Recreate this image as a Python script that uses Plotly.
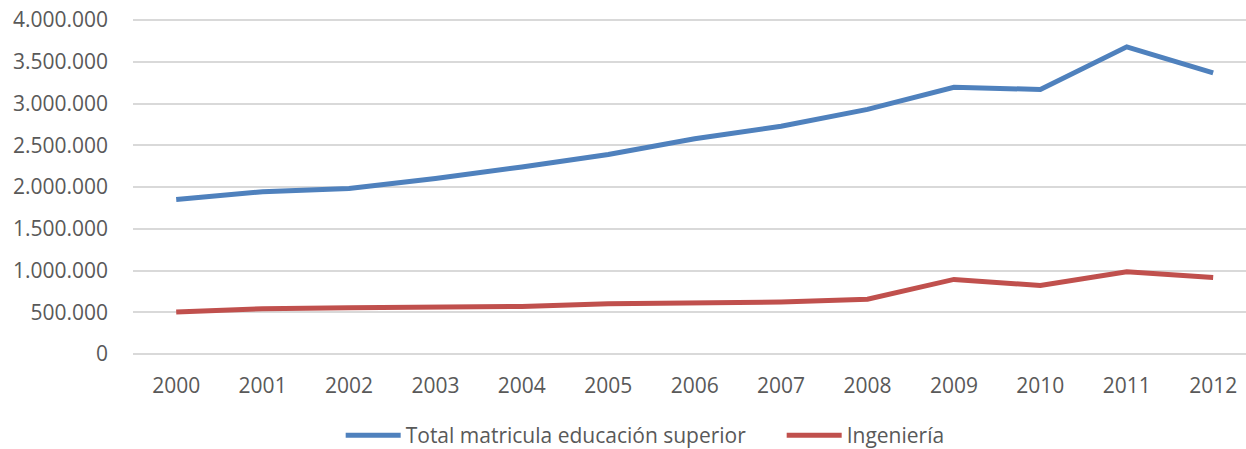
import plotly.graph_objects as go

years = ["2000", "2001", "2002", "2003", "2004", "2005", "2006",
         "2007", "2008", "2009", "2010", "2011", "2012"]
total = [1850000, 1943000, 1982000, 2102000, 2240000, 2389000, 2577000,
         2728000, 2930000, 3195000, 3168000, 3679000, 3367000]
ingenieria = [502000, 543000, 554000, 556000, 570000, 602000, 611000,
              623000, 655000, 893000, 820000, 986000, 917000]
y_ticks = [0, 500000, 1000000, 1500000, 2000000, 2500000, 3000000, 3500000, 4000000]

FONT = "Open Sans"
fig = go.Figure()
fig.add_trace(go.Scatter(x=years, y=total, mode="lines",
                         name="Total matricula educación superior",
                         line=dict(color="#4F81BD", width=5)))
fig.add_trace(go.Scatter(x=years, y=ingenieria, mode="lines",
                         name="Ingeniería",
                         line=dict(color="#C0504D", width=5)))

fig.update_layout(
    width=1246, height=449,
    margin=dict(l=133, r=0, t=17, b=92, autoexpand=False),
    paper_bgcolor="white", plot_bgcolor="white",
    separators=",.",
    font=dict(family=FONT, size=21, color="#595959"),
    showlegend=True,
    legend=dict(orientation="h", x=0.1866, xanchor="left", y=-0.171, yanchor="top",
                font=dict(family=FONT, size=21, color="#595959"),
                itemwidth=55, tracegroupgap=0, bgcolor="rgba(0,0,0,0)",
                entrywidth=371, entrywidthmode="pixels"),
)
fig.update_xaxes(type="category", range=[-0.5, 12.38], showgrid=False,
                 showline=False, zeroline=False, ticks="", automargin=False,
                 ticklabelstandoff=14,
                 tickfont=dict(family=FONT, size=21, color="#595959"))
fig.update_yaxes(range=[-36000, 4036000], tickvals=y_ticks, tickformat=",d",
                 showgrid=True, gridcolor="#D9D9D9", gridwidth=1.5,
                 zeroline=False, showline=False, ticks="", automargin=False,
                 ticklabelstandoff=24, ticklabeloverflow="allow",
                 tickfont=dict(family=FONT, size=21, color="#595959"))

fig.write_html("out.html", config={"displayModeBar": False},
               post_script="document.body.style.margin='0';")
